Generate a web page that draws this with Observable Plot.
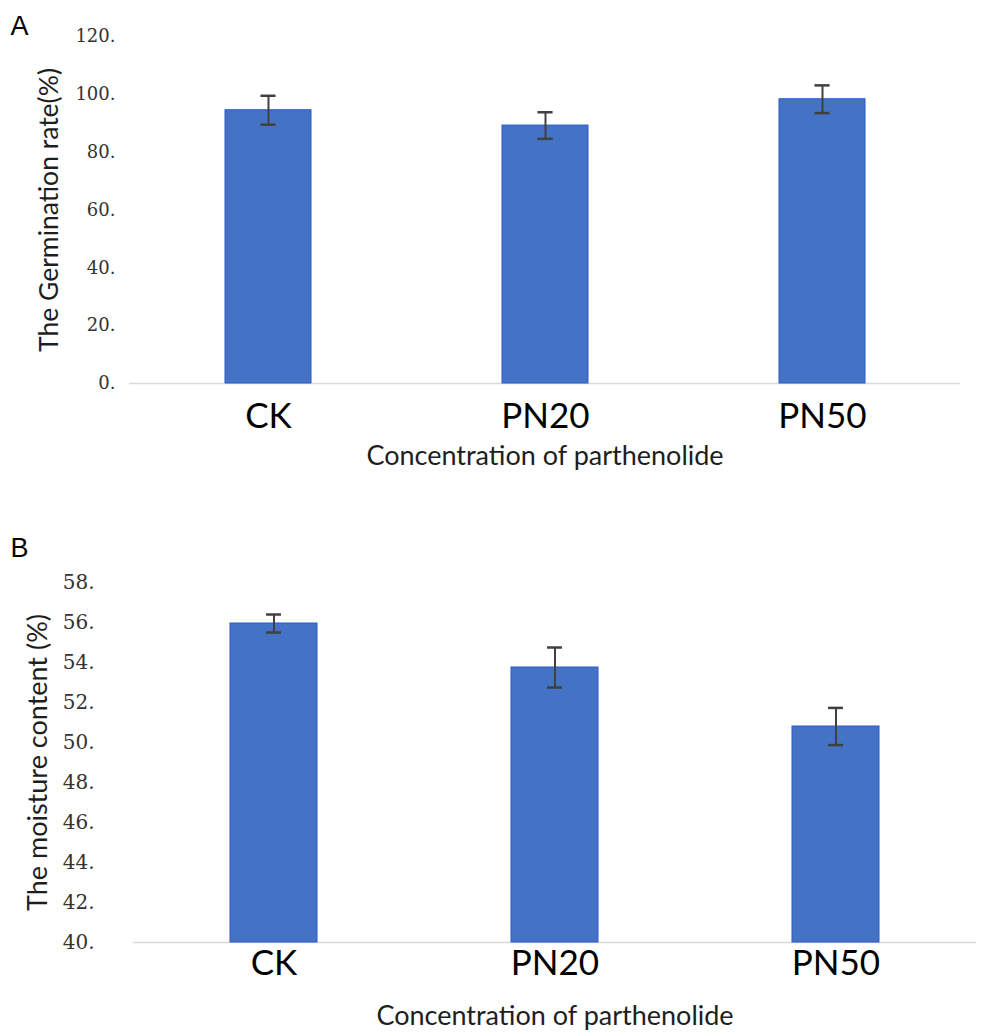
<!DOCTYPE html>
<html><head><meta charset="utf-8">
<script src="https://cdn.jsdelivr.net/npm/d3@7"></script>
<script src="https://cdn.jsdelivr.net/npm/@observablehq/plot@0.6"></script>
<style>
body{margin:0;background:#fff;}
#wrap{width:988px;}
#wrap svg{display:block;}
</style></head><body><div id="wrap"></div>
<script>
const categories = ["CK", "PN20", "PN50"];
const germination = [94.5, 89.2, 98.3];
const germinationErr = [5.0, 4.6, 4.8];
const moisture = [55.95, 53.75, 50.8];
const moistureErr = [0.45, 1.0, 0.93];
const germTicks = [0, 20, 40, 60, 80, 100, 120];
const moistTicks = [40, 42, 44, 46, 48, 50, 52, 54, 56, 58];
const xTitle = "Concentration of parthenolide";
const yTitleA = "The Germination rate(%)";
const yTitleB = "The moisture content (%)";

function panel(o) {
  const data = categories.map((c, i) => ({cat: c, v: o.values[i], lo: o.values[i] - o.errs[i], hi: o.values[i] + o.errs[i]}));
  const bandW = (988 - o.ml - o.mr) / 3 * 0.31;
  const capInset = (bandW - 15) / 2;
  return Plot.plot({
    width: 988, height: o.height,
    marginLeft: o.ml, marginRight: o.mr, marginTop: o.mt, marginBottom: o.mb,
    style: {background: "white", fontFamily: "Lato", overflow: "visible"},
    x: {domain: categories, paddingInner: 0.69, paddingOuter: 0.345, axis: null},
    y: {domain: o.domain, axis: null},
    marks: [
      Plot.ruleY([o.domain[0]], {stroke: "#d9d9d9", strokeWidth: 1.5}),
      Plot.barY(data, {x: "cat", y1: o.domain[0], y2: "v", fill: "#4472c4", stroke: "#2b5ac8", strokeWidth: 1}),
      Plot.ruleX(data, {x: "cat", y1: "lo", y2: "hi", stroke: "#404040", strokeWidth: 2}),
      Plot.tickY(data, {x: "cat", y: "hi", stroke: "#404040", strokeWidth: 2.5, insetLeft: capInset, insetRight: capInset}),
      Plot.tickY(data, {x: "cat", y: "lo", stroke: "#404040", strokeWidth: 2.5, insetLeft: capInset, insetRight: capInset}),
      Plot.axisY({ticks: o.ticks, tickFormat: d => d + ".", tickSize: 0, tickPadding: o.tp, fontSize: o.tfs, fontFamily: "DejaVu Serif", fill: "#333", label: null}),
      Plot.axisX({tickSize: 0, tickPadding: o.xtp, fontSize: 35, fontFamily: "Lato", fill: "#000", label: null}),
      Plot.text([xTitle], {frameAnchor: "bottom", dy: o.xdy, lineAnchor: "top", textAnchor: "middle", fontSize: 27, fill: "#1e1e1e"}),
      Plot.text([o.yTitle], {frameAnchor: "left", rotate: -90, dx: o.ydx, lineAnchor: "middle", textAnchor: "middle", fontSize: o.yfs, fill: "#1e1e1e"}),
      Plot.text([o.letter], {frameAnchor: "top-left", dx: o.ldx, dy: o.ldy, textAnchor: "start", lineAnchor: "top", fontSize: 27, fontFamily: "Liberation Sans", fill: "#000"})
    ]
  });
}

const wrap = document.getElementById("wrap");
wrap.appendChild(panel({
  letter: "A", values: germination, errs: germinationErr, ticks: germTicks, domain: [0, 120],
  yTitle: yTitleA, height: 500, ml: 129, mr: 28, mt: 36, mb: 117,
  tp: 14, tfs: 18, xtp: 20, xdy: 62, ydx: -80, yfs: 26.5, ldx: -119, ldy: -21
}));
wrap.appendChild(panel({
  letter: "B", values: moisture, errs: moistureErr, ticks: moistTicks, domain: [40, 58],
  yTitle: yTitleB, height: 536, ml: 133, mr: 12, mt: 82, mb: 94,
  tp: 39, tfs: 20, xtp: 8, xdy: 63, ydx: -95, yfs: 27, ldx: -123, ldy: -45
}));
</script></body></html>
